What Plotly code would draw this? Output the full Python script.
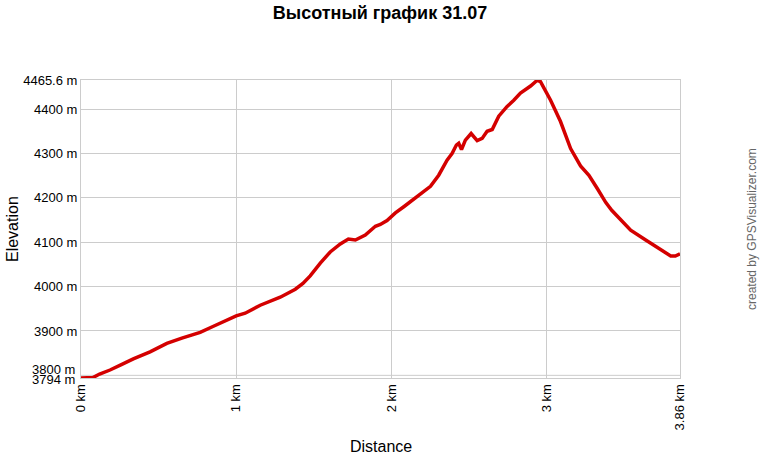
import plotly.graph_objects as go

distance_km = [0.0, 0.04, 0.077, 0.12, 0.187, 0.26, 0.337, 0.445, 0.553, 0.65, 0.768, 0.85, 0.961, 1.0, 1.058,
               1.155, 1.284, 1.381, 1.43, 1.477, 1.542, 1.606, 1.671, 1.723, 1.768, 1.832, 1.897, 1.929,
               1.972, 2.026, 2.08, 2.155, 2.208, 2.252, 2.305, 2.359, 2.391, 2.419, 2.434, 2.452, 2.477,
               2.514, 2.553, 2.585, 2.617, 2.65, 2.692, 2.746, 2.789, 2.832, 2.897, 2.94, 2.961, 3.026,
               3.09, 3.155, 3.219, 3.273, 3.327, 3.381, 3.42, 3.477, 3.542, 3.639, 3.703, 3.768, 3.8, 3.83, 3.86]
elevation_m = [3794, 3794, 3795, 3803, 3812, 3824, 3837, 3853, 3872, 3884, 3897, 3910, 3929, 3934, 3940,
               3958, 3976, 3994, 4007, 4024, 4053, 4078, 4096, 4107, 4105, 4116, 4136, 4140,
               4149, 4166, 4180, 4200, 4214, 4226, 4251, 4285, 4300, 4319, 4323, 4309, 4330,
               4345, 4329, 4334, 4350, 4354, 4384, 4406, 4420, 4436, 4452, 4465, 4462, 4420,
               4372, 4311, 4272, 4251, 4221, 4190, 4172, 4150, 4127, 4105, 4091, 4075, 4069, 4069, 4074]

y_tick_vals = [3900, 4000, 4100, 4200, 4300, 4400, 4465.6]
y_tick_text = ["3900 m", "4000 m", "4100 m", "4200 m", "4300 m", "4400 m", "4465.6 m"]
y_low_vals = [3800, 3794]
y_low_text = ["3800 m", "3794 m"]
x_tick_vals = [0, 1, 2, 3, 3.86]
x_tick_text = ["0 km", "1 km", "2 km", "3 km", "3.86 km"]

fig = go.Figure()
fig.add_trace(go.Scatter(x=distance_km, y=elevation_m, mode="lines",
                         line=dict(color="#d40000", width=3.5), showlegend=False, hoverinfo="skip"))

font = "Liberation Sans, Arial, sans-serif"
annotations = [
    dict(text="created by GPSVisualizer.com", xref="paper", yref="paper",
         x=1.0, xshift=72, xanchor="center", y=0.5, yanchor="middle", textangle=-90, showarrow=False,
         font=dict(size=12, color="#666666", family=font)),
    dict(text="Elevation", xref="paper", yref="paper", x=0, xshift=-69, xanchor="center",
         y=0.5, yanchor="middle", textangle=-90, showarrow=False, font=dict(size=16, family=font)),
    dict(text="Distance", xref="paper", yref="paper", x=0.5, xanchor="center", y=0, yanchor="middle",
         yshift=-68, showarrow=False, font=dict(size=16, family=font)),
]
for v, t, shift in zip(y_low_vals, y_low_text, [-6, 1]):
    annotations.append(dict(text=t, xref="paper", yref="y", x=0, y=v, xanchor="right", yanchor="middle",
                            xshift=-4, yshift=-shift, showarrow=False,
                            font=dict(size=13, family=font)))

fig.update_layout(
    width=760, height=460,
    margin=dict(l=81, r=80, t=80, b=82, autoexpand=False),
    paper_bgcolor="white", plot_bgcolor="white",
    font=dict(family=font, color="black"),
    title=dict(text="<b>Высотный график 31.07</b>", x=0.5, xanchor="center", y=0.986, yanchor="top",
               pad=dict(t=0), font=dict(size=18, family=font)),
    xaxis=dict(range=[0, 3.86], tickvals=x_tick_vals, ticktext=x_tick_text, tickangle=-90,
               showgrid=True, gridcolor="#cccccc", gridwidth=1, zeroline=False, automargin=False,
               showline=True, linecolor="#cccccc", mirror=True, ticks="",
               tickfont=dict(size=13)),
    yaxis=dict(range=[3794, 4465.6], tickvals=y_tick_vals, ticktext=y_tick_text,
               showgrid=True, gridcolor="#cccccc", gridwidth=1, zeroline=False, automargin=False,
               showline=True, linecolor="#cccccc", mirror=True, ticks="",
               tickfont=dict(size=13)),
    shapes=[dict(type="line", xref="paper", yref="y", x0=0, x1=1, y0=3800, y1=3800,
                 line=dict(color="#cccccc", width=1), layer="below")],
    annotations=annotations,
)

fig.write_html("out.html", config={"displayModeBar": False},
               post_script="document.body.style.margin='0';document.body.style.padding='0';")
